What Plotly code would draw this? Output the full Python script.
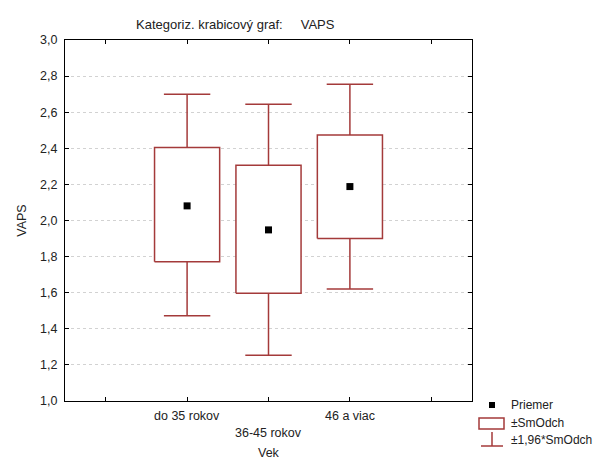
import plotly.graph_objects as go

categories = ["do 35 rokov", "36-45 rokov", "46 a viac"]
cat_pos = [1, 2, 3]
means = [2.081, 1.948, 2.188]
sd_low = [1.772, 1.597, 1.900]
sd_high = [2.404, 2.306, 2.474]
ci_low = [1.472, 1.254, 1.620]
ci_high = [2.699, 2.644, 2.755]
y_ticks = [1.0, 1.2, 1.4, 1.6, 1.8, 2.0, 2.2, 2.4, 2.6, 2.8, 3.0]
legend_labels = ["Priemer", "±SmOdch", "±1,96*SmOdch"]

RED = "#A43A3A"
FONT = "Liberation Sans, Arial, sans-serif"
FS = 12.5
BOX_HALF = 0.4
CAP_HALF = 0.285

fig = go.Figure()
for p, lo, hi, wlo, whi in zip(cat_pos, sd_low, sd_high, ci_low, ci_high):
    fig.add_trace(go.Scatter(
        x=[p, p, None, p - CAP_HALF, p + CAP_HALF, None, p, p, None, p - CAP_HALF, p + CAP_HALF],
        y=[hi, whi, None, whi, whi, None, lo, wlo, None, wlo, wlo],
        mode="lines", line=dict(color=RED, width=1.5), hoverinfo="skip", showlegend=False,
    ))
    fig.add_trace(go.Scatter(
        x=[p - BOX_HALF, p + BOX_HALF, p + BOX_HALF, p - BOX_HALF, p - BOX_HALF],
        y=[lo, lo, hi, hi, lo], mode="lines", fill="toself", fillcolor="white",
        line=dict(color=RED, width=1.5), hoverinfo="skip", showlegend=False,
    ))
fig.add_trace(go.Scatter(
    x=cat_pos, y=means, mode="markers",
    marker=dict(symbol="square", size=7, color="black"),
    showlegend=False,
))

W, H = 600, 459
L, T, R, B = 65, 40, 128, 58
fig.update_layout(
    width=W, height=H,
    margin=dict(l=L, r=R, t=T, b=B),
    plot_bgcolor="white", paper_bgcolor="white",
    separators=", ",
    font=dict(family=FONT, size=FS, color="#222"),
    showlegend=False,
)
fig.update_xaxes(
    range=[-0.5, 4.5], tickvals=[0, 1, 2, 3, 4], showticklabels=False,
    ticks="inside", ticklen=4, tickcolor="black",
    showline=True, linecolor="black", linewidth=1, mirror="ticks",
    showgrid=False, zeroline=False,
)
fig.update_yaxes(
    range=[1.0, 3.0], tickvals=y_ticks, tickformat=".1f",
    ticks="inside", ticklen=4, tickcolor="black",
    showline=True, linecolor="black", linewidth=1, mirror="ticks",
    showgrid=True, gridcolor="#d2d2d2", griddash="dot", gridwidth=1,
    zeroline=False, ticklabelstandoff=4,
    title=dict(text="VAPS", standoff=10, font=dict(size=FS)),
)

for i, (pos, lab) in enumerate(zip(cat_pos, categories)):
    fig.add_annotation(
        x=pos, xref="x", y=0, yref="paper", text=lab, showarrow=False,
        yanchor="top", yshift=-6 - (17 if i == 1 else 0),
        font=dict(size=FS, family=FONT, color="#222"),
    )
fig.add_annotation(x=2, xref="x", y=0, yref="paper", text="Vek", showarrow=False,
                   yanchor="top", yshift=-43, font=dict(size=FS, family=FONT, color="#222"))

PW = W - L - R
PH = H - T - B

def px(x):
    return (x - L) / PW

def py(y):
    return (H - B - y) / PH

fig.add_annotation(x=px(235), xref="paper", y=py(25), yref="paper",
                   text="Kategoriz. krabicový graf:     VAPS", showarrow=False,
                   xanchor="center", yanchor="middle",
                   font=dict(size=13, family=FONT, color="#222"))

shapes = []
shapes.append(dict(type="rect", xref="paper", yref="paper", x0=px(489), x1=px(495), y0=py(408), y1=py(402),
                   fillcolor="black", line=dict(width=0)))
shapes.append(dict(type="rect", xref="paper", yref="paper", x0=px(479), x1=px(504), y0=py(429), y1=py(418),
                   fillcolor="white", line=dict(color=RED, width=1.5)))
shapes.append(dict(type="line", xref="paper", yref="paper", x0=px(492), x1=px(492), y0=py(432), y1=py(446),
                   line=dict(color=RED, width=1.5)))
shapes.append(dict(type="line", xref="paper", yref="paper", x0=px(481), x1=px(503), y0=py(446), y1=py(446),
                   line=dict(color=RED, width=1.5)))
fig.update_layout(shapes=shapes)
for lab, yy in zip(legend_labels, [405, 423, 440]):
    fig.add_annotation(x=px(509), xref="paper", y=py(yy), yref="paper", text=lab, showarrow=False,
                       xanchor="left", yanchor="middle", font=dict(size=12, family=FONT, color="#222"))

fig.write_html("out.html", config={"displayModeBar": False},
               post_script="document.body.style.margin='0px';")
